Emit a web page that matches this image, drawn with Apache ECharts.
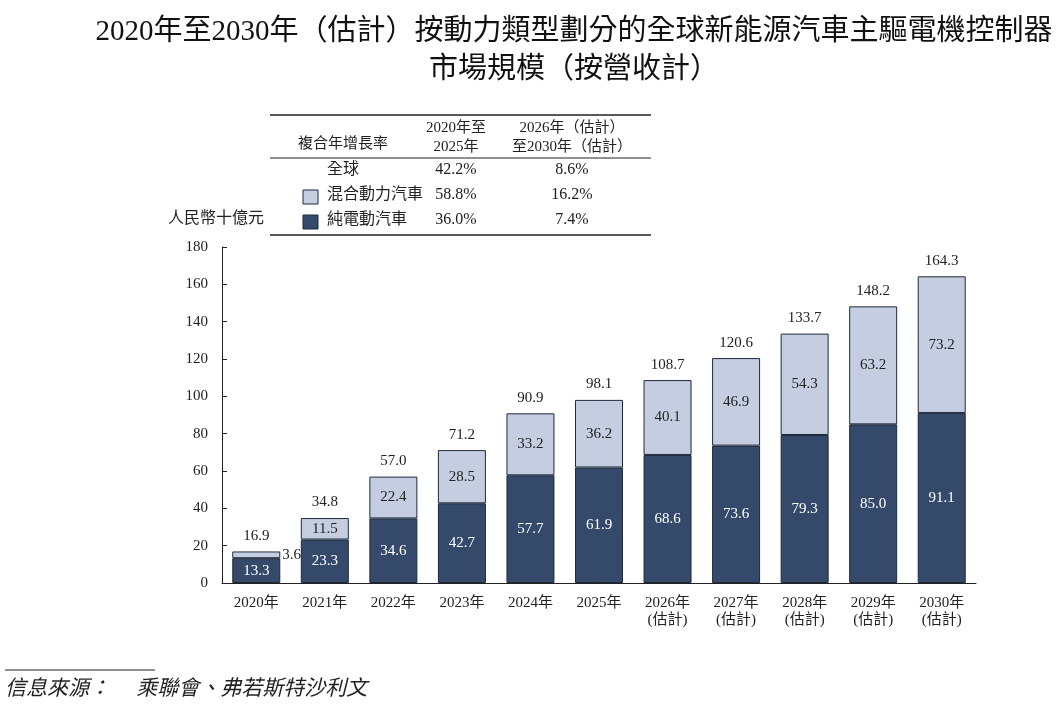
<!DOCTYPE html>
<html>
<head>
<meta charset="utf-8">
<style>
  html, body { margin: 0; height: 100%; background: #fff; }
  #chart { width: 1060px; height: 712px; }
</style>
</head>
<body>
<div id="chart"></div>
<script src="https://cdn.jsdelivr.net/npm/echarts@6/dist/echarts.min.js"></script>
<script>
  const years = ['2020年', '2021年', '2022年', '2023年', '2024年', '2025年',
    '2026年\n(估計)', '2027年\n(估計)', '2028年\n(估計)', '2029年\n(估計)', '2030年\n(估計)'];
  const bev = [13.3, 23.3, 34.6, 42.7, 57.7, 61.9, 68.6, 73.6, 79.3, 85.0, 91.1];
  const phev = [3.6, 11.5, 22.4, 28.5, 33.2, 36.2, 40.1, 46.9, 54.3, 63.2, 73.2];
  const totals = [16.9, 34.8, 57.0, 71.2, 90.9, 98.1, 108.7, 120.6, 133.7, 148.2, 164.3];
  // 複合年增長率表
  const cagrRows = ['全球', '混合動力汽車', '純電動汽車'];
  const cagr2025 = ['42.2%', '58.8%', '36.0%'];
  const cagr2030 = ['8.6%', '16.2%', '7.4%'];

  const FONT = '"Liberation Serif", "Noto Sans CJK TC", serif';
  const DARK = '#354a6b';
  const LIGHT = '#c5cee0';
  const EDGE = '#1f2a3c';

  var myChart = echarts.init(document.getElementById('chart'));

  var g = [];
  function line(x1, y1, x2, y2, w) {
    g.push({ type: 'line', shape: { x1: x1, y1: y1, x2: x2, y2: y2 }, style: { stroke: '#222', lineWidth: w || 1 } });
  }
  line(270, 115, 651, 115, 1.5);
  line(270, 158, 651, 158, 1);
  line(270, 235, 651, 235, 1.5);
  g.push({ type: 'text', x: 343, y: 137, style: { text: '複合年增長率', font: '15px ' + FONT, fill: '#222', textAlign: 'center' } });
  g.push({ type: 'text', x: 456, y: 119, style: { text: '2020年至\n2025年', font: '15px ' + FONT, fill: '#222', textAlign: 'center', lineHeight: 19 } });
  g.push({ type: 'text', x: 572, y: 119, style: { text: '2026年（估計）\n至2030年（估計）', font: '15px ' + FONT, fill: '#222', textAlign: 'center', lineHeight: 19 } });
  cagrRows.forEach(function (r, i) {
    var y = 162 + i * 25;
    g.push({ type: 'text', x: 327, y: y, style: { text: r, font: '16px ' + FONT, fill: '#222' } });
    g.push({ type: 'text', x: 456, y: y, style: { text: cagr2025[i], font: '16px ' + FONT, fill: '#222', textAlign: 'center' } });
    g.push({ type: 'text', x: 572, y: y, style: { text: cagr2030[i], font: '16px ' + FONT, fill: '#222', textAlign: 'center' } });
    if (i > 0) {
      g.push({ type: 'rect', shape: { x: 303, y: y + 3, width: 15, height: 14 }, style: { fill: i === 1 ? LIGHT : DARK, stroke: EDGE, lineWidth: 1 } });
    }
  });
  g.push({ type: 'text', x: 168, y: 211, style: { text: '人民幣十億元', font: '16px ' + FONT, fill: '#222' } });
  line(5, 670, 155, 670, 1);
  g.push({ type: 'text', x: 5, y: 679, style: { text: '信息來源：     乘聯會、弗若斯特沙利文', font: 'italic 21px ' + FONT, fill: '#222' } });

  var option = {
    animation: false,
    title: {
      text: '2020年至2030年（估計）按動力類型劃分的全球新能源汽車主驅電機控制器\n市場規模（按營收計）',
      left: 569, top: 8, textAlign: 'center',
      textStyle: { fontFamily: FONT, fontSize: 29, fontWeight: 'normal', color: '#111', lineHeight: 38 }
    },
    grid: { left: 222, right: 84, top: 247, bottom: 129 },
    xAxis: {
      type: 'category', data: years,
      axisLine: { lineStyle: { color: '#222' } },
      axisTick: { show: false },
      axisLabel: { fontFamily: FONT, fontSize: 15, color: '#222', lineHeight: 17, margin: 12 }
    },
    yAxis: {
      type: 'value', min: 0, max: 180, interval: 20,
      axisLine: { show: true, lineStyle: { color: '#222' } },
      axisTick: { show: true, inside: true, length: 5, lineStyle: { color: '#222' } },
      splitLine: { show: false },
      axisLabel: { fontFamily: FONT, fontSize: 15, color: '#222', margin: 14 }
    },
    series: [
      {
        name: '純電動汽車', type: 'bar', stack: 'a', barWidth: 48, data: bev,
        itemStyle: { color: DARK, borderColor: EDGE, borderWidth: 1 },
        label: { show: true, position: 'inside', color: '#fff', fontFamily: FONT, fontSize: 15, formatter: function (p) { return p.value.toFixed(1); } }
      },
      {
        name: '混合動力汽車', type: 'bar', stack: 'a', data: phev.map(function (v, i) {
          return i === 0 ? { value: v, label: { position: 'right', color: '#222', distance: 2 } } : v;
        }),
        itemStyle: { color: LIGHT, borderColor: EDGE, borderWidth: 1 },
        label: { show: true, position: 'inside', color: '#222', fontFamily: FONT, fontSize: 15, formatter: function (p) { return p.value.toFixed(1); } }
      },
      {
        name: 'total', type: 'bar', stack: 'a', data: totals.map(function () { return 0; }),
        itemStyle: { color: 'transparent' },
        label: { show: true, position: 'top', distance: 8, color: '#222', fontFamily: FONT, fontSize: 15,
          formatter: function (p) { return totals[p.dataIndex].toFixed(1); } }
      }
    ],
    graphic: g
  };
  myChart.setOption(option);
</script>
</body>
</html>
